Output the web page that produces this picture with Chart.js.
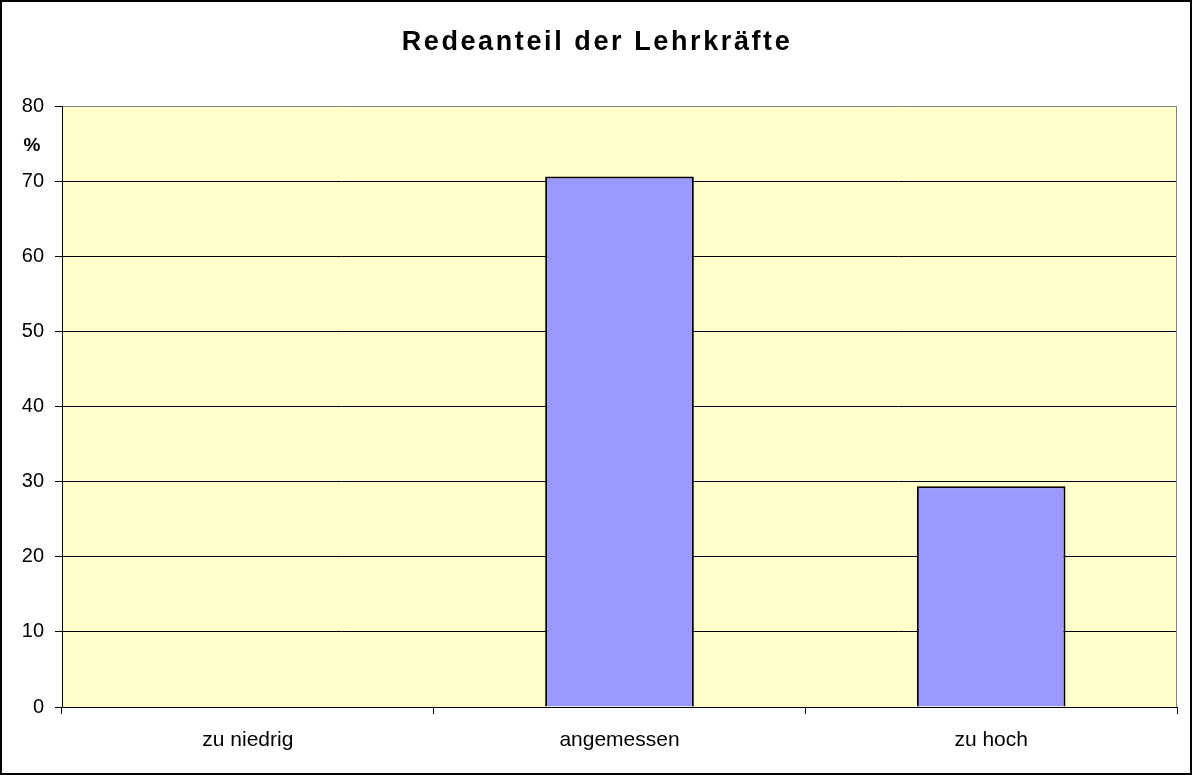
<!DOCTYPE html>
<html>
<head>
<meta charset="utf-8">
<script src="https://cdn.jsdelivr.net/npm/chart.js@4/dist/chart.umd.min.js"></script>
<style>
  html, body { margin: 0; padding: 0; background: #fff; }
  #wrap { width: 1192px; height: 775px; position: relative; }
</style>
</head>
<body>
<div id="wrap"><canvas id="chart" width="1192" height="775"></canvas></div>
<script>
const chartTitle = 'Redeanteil der Lehrkräfte';
const categories = ['zu niedrig', 'angemessen', 'zu hoch'];
const shares = [0, 70.6, 29.4];
const yTicks = [0, 10, 20, 30, 40, 50, 60, 70, 80];
const unitLabel = '%';

// plot background, outer frame, title and the % label
const decorations = {
    id: 'decorations',
    beforeDraw(chart) {
        const { ctx, chartArea } = chart;
        ctx.save();
        ctx.fillStyle = '#ffffcc';
        ctx.fillRect(chartArea.left, chartArea.top, chartArea.right - chartArea.left, chartArea.bottom - chartArea.top);
        ctx.restore();
    },
    afterDraw(chart) {
        const { ctx, chartArea, scales } = chart;
        ctx.save();
        ctx.strokeStyle = '#808080';
        ctx.lineWidth = 1;
        ctx.beginPath();
        ctx.moveTo(Math.round(chartArea.right) - 0.5, chartArea.top);
        ctx.lineTo(Math.round(chartArea.right) - 0.5, chartArea.bottom);
        ctx.stroke();

        ctx.strokeStyle = '#000';
        ctx.lineWidth = 2;
        ctx.strokeRect(1, 1, chart.width - 2, chart.height - 2);

        ctx.fillStyle = '#000';
        ctx.textAlign = 'center';
        ctx.textBaseline = 'alphabetic';
        ctx.letterSpacing = '2.6px';
        ctx.font = 'bold 27px "Liberation Sans", Arial, sans-serif';
        ctx.fillText(chartTitle, chart.width / 2 + 1, 50);

        ctx.letterSpacing = '0px';
        ctx.font = 'bold 19px "Liberation Sans", Arial, sans-serif';
        ctx.textBaseline = 'middle';
        ctx.fillText(unitLabel, 32, scales.y.getPixelForValue(74.7));
        ctx.restore();
    }
};

new Chart(document.getElementById('chart'), {
    type: 'bar',
    data: {
        labels: categories,
        datasets: [{
            data: shares,
            backgroundColor: '#9999ff',
            borderColor: '#000',
            borderWidth: 2,
            borderSkipped: 'bottom',
            categoryPercentage: 1,
            barPercentage: 0.4
        }]
    },
    options: {
        responsive: false,
        animation: false,
        devicePixelRatio: 1,
        layout: { padding: { top: 106, right: 15, bottom: 0, left: 0 } },
        plugins: {
            legend: { display: false },
            title: { display: false },
            tooltip: { enabled: false }
        },
        scales: {
            x: {
                grid: { drawOnChartArea: false, drawTicks: true, tickLength: 7, offset: true, color: '#000' },
                border: { display: true, color: '#000', width: 1 },
                ticks: {
                    color: '#000',
                    padding: 14,
                    font: { family: '"Liberation Sans", Arial, sans-serif', size: 21 }
                },
                afterFit(scale) { scale.height = 68; }
            },
            y: {
                min: 0,
                max: 80,
                afterBuildTicks(scale) { scale.ticks = yTicks.map(v => ({ value: v })); },
                grid: {
                    color: ctx => ctx.tick && ctx.tick.value === 80 ? '#808080' : '#000',
                    lineWidth: 1,
                    tickLength: 7,
                    drawTicks: true,
                    tickColor: '#000'
                },
                border: { display: true, color: '#000', width: 1 },
                ticks: {
                    color: '#000',
                    padding: 11,
                    font: { family: '"Liberation Sans", Arial, sans-serif', size: 20 }
                },
                afterFit(scale) { scale.width = 62; }
            }
        }
    },
    plugins: [decorations]
});
</script>
</body>
</html>
